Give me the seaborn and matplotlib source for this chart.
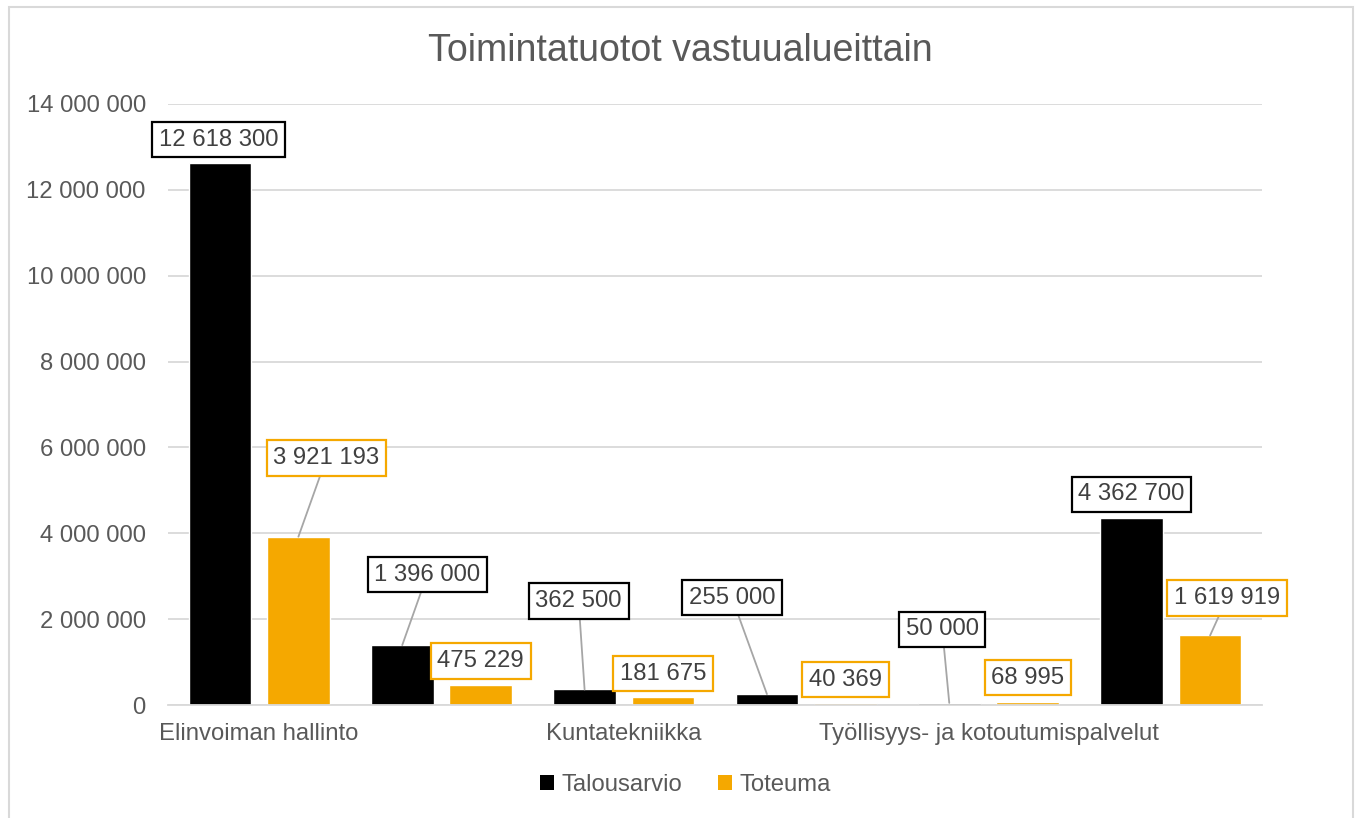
import pandas as pd
import matplotlib.pyplot as plt
import matplotlib.ticker as mticker
from matplotlib.patches import Patch, Rectangle
import seaborn as sns

# data (only every other category name is shown on the axis)
category_ids = [0, 1, 2, 3, 4, 5]
tick_labels = ['Elinvoiman hallinto', '', 'Kuntatekniikka', '',
               'Työllisyys- ja kotoutumispalvelut', '']
talousarvio = [12618300, 1396000, 362500, 255000, 50000, 4362700]
toteuma = [3921193, 475229, 181675, 40369, 68995, 1619919]
series_names = ['Talousarvio', 'Toteuma']
colors = ['#000000', '#F5A800']

# where Excel put each data label, in pixels from the bar top
label_offsets = {
    'Talousarvio': [(-1, 26), (25, 73), (-6, 91), (-35, 99), (-7, 76), (0, 26)],
    'Toteuma': [(28, 81), (0, 26), (0, 26), (0, 26), (0, 27), (17, 40)],
}

df = pd.DataFrame({
    'cat': category_ids * 2,
    'value': talousarvio + toteuma,
    'series': [series_names[0]] * 6 + [series_names[1]] * 6,
})

sns.set_style('white')
plt.rcParams['font.family'] = ['Liberation Sans', 'DejaVu Sans']
text_col = '#595959'
grid_col = '#D9D9D9'
fs = 17.2

fig = plt.figure(figsize=(13.57, 8.18), dpi=100)
ax = fig.add_axes([0.1238, 0.1381, 0.8062, 0.7348])

sns.barplot(data=df, x='cat', y='value', hue='series', palette=colors,
            width=0.861, gap=0.2, ax=ax, legend=False, saturation=1)

ax.set_ylim(0, 14000000)
ax.set_xlim(-0.5, 5.5)
ax.yaxis.set_major_locator(mticker.MultipleLocator(2000000))
ax.yaxis.set_major_formatter(mticker.FuncFormatter(lambda v, p: f'{int(v):,}'.replace(',', ' ')))
ax.grid(axis='y', color=grid_col, linewidth=1.3)
ax.set_axisbelow(True)
for s in ['top', 'right', 'left']:
    ax.spines[s].set_visible(False)
ax.spines['bottom'].set_color(grid_col)
ax.spines['bottom'].set_linewidth(1.3)
ax.set_xticks(category_ids)
ax.set_xticklabels(tick_labels)
ax.tick_params(axis='both', length=0, labelsize=fs, colors=text_col)
ax.tick_params(axis='y', pad=16)
ax.tick_params(axis='x', pad=13)
ax.set_xlabel('')
ax.set_ylabel('')

# data labels in boxes, with leader lines when they sit far from the bar
for cont, name, col in zip(ax.containers, series_names, colors):
    vals = talousarvio if name == 'Talousarvio' else toteuma
    for bar, v, (dx, dy) in zip(cont, vals, label_offsets[name]):
        x = bar.get_x() + bar.get_width() / 2
        y = bar.get_height()
        far = dy > 30
        ax.annotate(f'{v:,}'.replace(',', ' '), xy=(x, y), xytext=(dx, dy),
                    textcoords='offset pixels', ha='center', va='center_baseline',
                    fontsize=fs, color='#404040', annotation_clip=False,
                    bbox=dict(boxstyle='square,pad=0.28', fc='white', ec=col, lw=1.6),
                    arrowprops=dict(arrowstyle='-', color='#A6A6A6', lw=1.3,
                                    shrinkA=0, shrinkB=0) if far else None)

fig.text(0.501, 0.938, 'Toimintatuotot vastuualueittain', ha='center', va='center',
         fontsize=27, color=text_col)

handles = [Patch(facecolor=c, edgecolor='none') for c in colors]
fig.legend(handles, series_names, loc='center', bbox_to_anchor=(0.505, 0.040), ncol=2,
           frameon=False, fontsize=fs, labelcolor=text_col, handlelength=0.6,
           handleheight=0.6, handletextpad=0.3, columnspacing=1.5)

fig.add_artist(Rectangle((0.0066, -0.02), 0.9905, 1.0114, transform=fig.transFigure,
                         fill=False, ec=grid_col, lw=1.5))

fig.savefig('out.png', dpi=100)
